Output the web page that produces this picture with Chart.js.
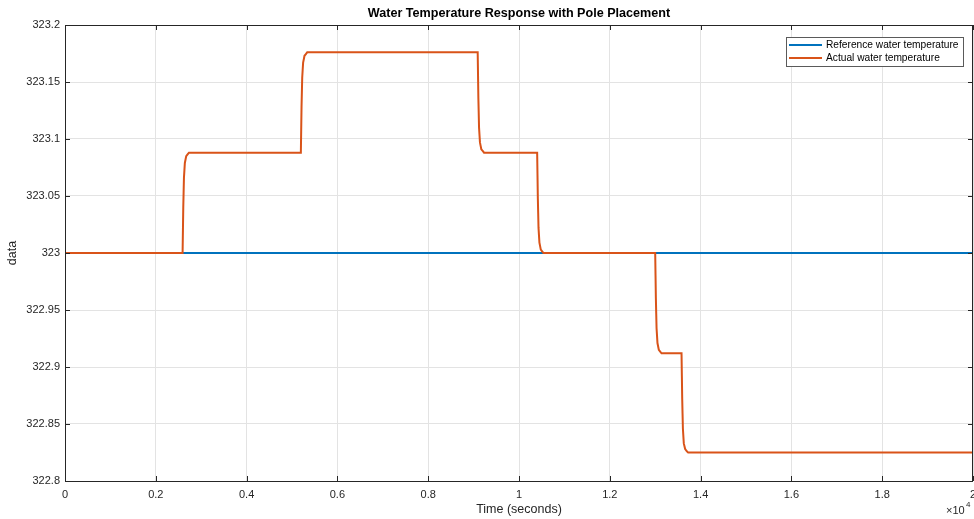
<!DOCTYPE html>
<html lang="en">
<head>
  <meta charset="UTF-8" />
  <title>Water Temperature Response with Pole Placement</title>
  <script src="https://cdnjs.cloudflare.com/ajax/libs/Chart.js/4.4.1/chart.umd.js"></script>
  <style>
    body {
      margin: 0;
      background: #fff;
    }
    #wrap {
      width: 974px;
      height: 519px;
    }
  </style>
</head>
<body>
  <div id="wrap"><canvas id="resp"></canvas></div>

  <script>
    // reference setpoint
    const refTime = [0, 20000];
    const refTemp = [323, 323];

    // simulated water temperature (s, K)
    const actTime = [
      0, 2590, 2605, 2620, 2640, 2670, 2730,
      5195, 5210, 5225, 5245, 5275, 5335,
      9090, 9105, 9120, 9140, 9170, 9230,
      10400, 10415, 10430, 10450, 10480, 10540,
      13000, 13015, 13030, 13050, 13080, 13140,
      13580, 13595, 13610, 13630, 13660, 13720,
      20000
    ];
    const actTemp = [
      323, 323, 323.040, 323.066, 323.079, 323.085, 323.088,
      323.088, 323.128, 323.154, 323.167, 323.173, 323.176,
      323.176, 323.136, 323.110, 323.097, 323.091, 323.088,
      323.088, 323.048, 323.022, 323.009, 323.003, 323,
      323, 322.960, 322.934, 322.921, 322.915, 322.912,
      322.912, 322.872, 322.846, 322.833, 322.828, 322.825,
      322.825
    ];

    const xTicks = [0, 2000, 4000, 6000, 8000, 10000, 12000, 14000, 16000, 18000, 20000];
    const xTickLabels = ['0', '0.2', '0.4', '0.6', '0.8', '1', '1.2', '1.4', '1.6', '1.8', '2'];
    const yTicks = [322.8, 322.85, 322.9, 322.95, 323, 323.05, 323.1, 323.15, 323.2];
    const yTickLabels = ['322.8', '322.85', '322.9', '322.95', '323', '323.05', '323.1', '323.15', '323.2'];

    const seriesNames = ['Reference water temperature', 'Actual water temperature'];
    const BLUE = '#0072BD';
    const ORANGE = '#D95319';
    const AXIS = '#262626';
    const FONT = '"Liberation Sans", Arial, sans-serif';

    const toPoints = (xs, ys) => xs.map((x, i) => ({ x, y: ys[i] }));

    // box, inward ticks, title, axis labels, exponent and legend
    const decor = {
      id: 'decor',
      afterDatasetsDraw(chart) {
        const { ctx, chartArea: a, scales } = chart;
        ctx.save();
        ctx.strokeStyle = AXIS;
        ctx.lineWidth = 1;
        ctx.beginPath();
        xTicks.forEach(v => {
          const px = Math.round(scales.x.getPixelForValue(v)) + 0.5;
          ctx.moveTo(px, a.bottom); ctx.lineTo(px, a.bottom - 5);
          ctx.moveTo(px, a.top); ctx.lineTo(px, a.top + 5);
        });
        yTicks.forEach(v => {
          const py = Math.round(scales.y.getPixelForValue(v)) + 0.5;
          ctx.moveTo(a.left, py); ctx.lineTo(a.left + 5, py);
          ctx.moveTo(a.right, py); ctx.lineTo(a.right - 5, py);
        });
        ctx.stroke();
        ctx.strokeRect(Math.round(a.left) + 0.5, Math.round(a.top) + 0.5,
          Math.round(a.right - a.left) - 1, Math.round(a.bottom - a.top));

        // title
        ctx.fillStyle = '#000';
        ctx.font = 'bold 12.6px ' + FONT;
        ctx.textAlign = 'center';
        ctx.textBaseline = 'middle';
        ctx.fillText('Water Temperature Response with Pole Placement', (a.left + a.right) / 2, 14);

        // axis titles
        ctx.fillStyle = AXIS;
        ctx.font = '12.5px ' + FONT;
        ctx.fillText('Time (seconds)', (a.left + a.right) / 2, 510);
        ctx.save();
        ctx.translate(13, (a.top + a.bottom) / 2);
        ctx.rotate(-Math.PI / 2);
        ctx.fillText('data', 0, 0);
        ctx.restore();

        // x10^4 exponent
        ctx.textAlign = 'left';
        ctx.font = '11px ' + FONT;
        ctx.fillText('\u00d710', 946, 511);
        ctx.font = '8px ' + FONT;
        ctx.fillText('4', 966, 505);

        // legend
        const lx = 786, ly = 37, lw = 177, lh = 29;
        ctx.fillStyle = '#fff';
        ctx.fillRect(lx, ly, lw, lh);
        ctx.strokeStyle = '#5a5a5a';
        ctx.lineWidth = 1;
        ctx.strokeRect(lx + 0.5, ly + 0.5, lw, lh);
        const colors = [BLUE, ORANGE];
        ctx.font = '10.2px ' + FONT;
        ctx.textBaseline = 'middle';
        seriesNames.forEach((name, i) => {
          const y = ly + 8 + i * 13;
          ctx.strokeStyle = colors[i];
          ctx.lineWidth = 2;
          ctx.beginPath();
          ctx.moveTo(lx + 3, y); ctx.lineTo(lx + 36, y);
          ctx.stroke();
          ctx.fillStyle = '#000';
          ctx.fillText(name, lx + 40, y + 0.5);
        });
        ctx.restore();
      }
    };

    // a tiny tension keeps Chart.js off its per-pixel fast path,
    // which otherwise leaves small jogs on the steep edges
    const lineStyle = { showLine: true, borderWidth: 2, pointRadius: 0, tension: 0.0001 };

    new Chart(document.getElementById('resp'), {
      type: 'scatter',
      data: {
        datasets: [
          {
            ...lineStyle,
            label: seriesNames[0],
            data: toPoints(refTime, refTemp),
            borderColor: BLUE,
            order: 1,
          },
          {
            ...lineStyle,
            label: seriesNames[1],
            data: toPoints(actTime, actTemp),
            borderColor: ORANGE,
            order: 0,
          }
        ]
      },
      options: {
        responsive: true,
        maintainAspectRatio: false,
        animation: false,
        layout: { padding: { left: 0, right: 1, top: 25, bottom: 0 } },
        plugins: {
          legend: { display: false },
          tooltip: { enabled: false },
        },
        scales: {
          x: {
            type: 'linear',
            min: 0,
            max: 20000,
            afterBuildTicks: s => { s.ticks = xTicks.map(v => ({ value: v })); },
            afterFit: s => { s.height = 38; s.paddingLeft = 0; s.paddingRight = 0; },
            ticks: {
              autoSkip: false,
              maxRotation: 0,
              padding: 7,
              color: AXIS,
              font: { family: FONT, size: 11 },
              callback: v => xTickLabels[xTicks.indexOf(v)],
            },
            grid: { color: '#e3e3e3', drawTicks: false },
            border: { display: false },
          },
          y: {
            min: 322.8,
            max: 323.2,
            afterBuildTicks: s => { s.ticks = yTicks.map(v => ({ value: v })); },
            afterFit: s => { s.width = 65; s.paddingTop = 0; s.paddingBottom = 0; },
            ticks: {
              autoSkip: false,
              padding: 5,
              color: AXIS,
              font: { family: FONT, size: 11 },
              callback: (v, i) => yTickLabels[i],
            },
            grid: { color: '#e3e3e3', drawTicks: false },
            border: { display: false },
          }
        }
      },
      plugins: [decor]
    });
  </script>
</body>
</html>
